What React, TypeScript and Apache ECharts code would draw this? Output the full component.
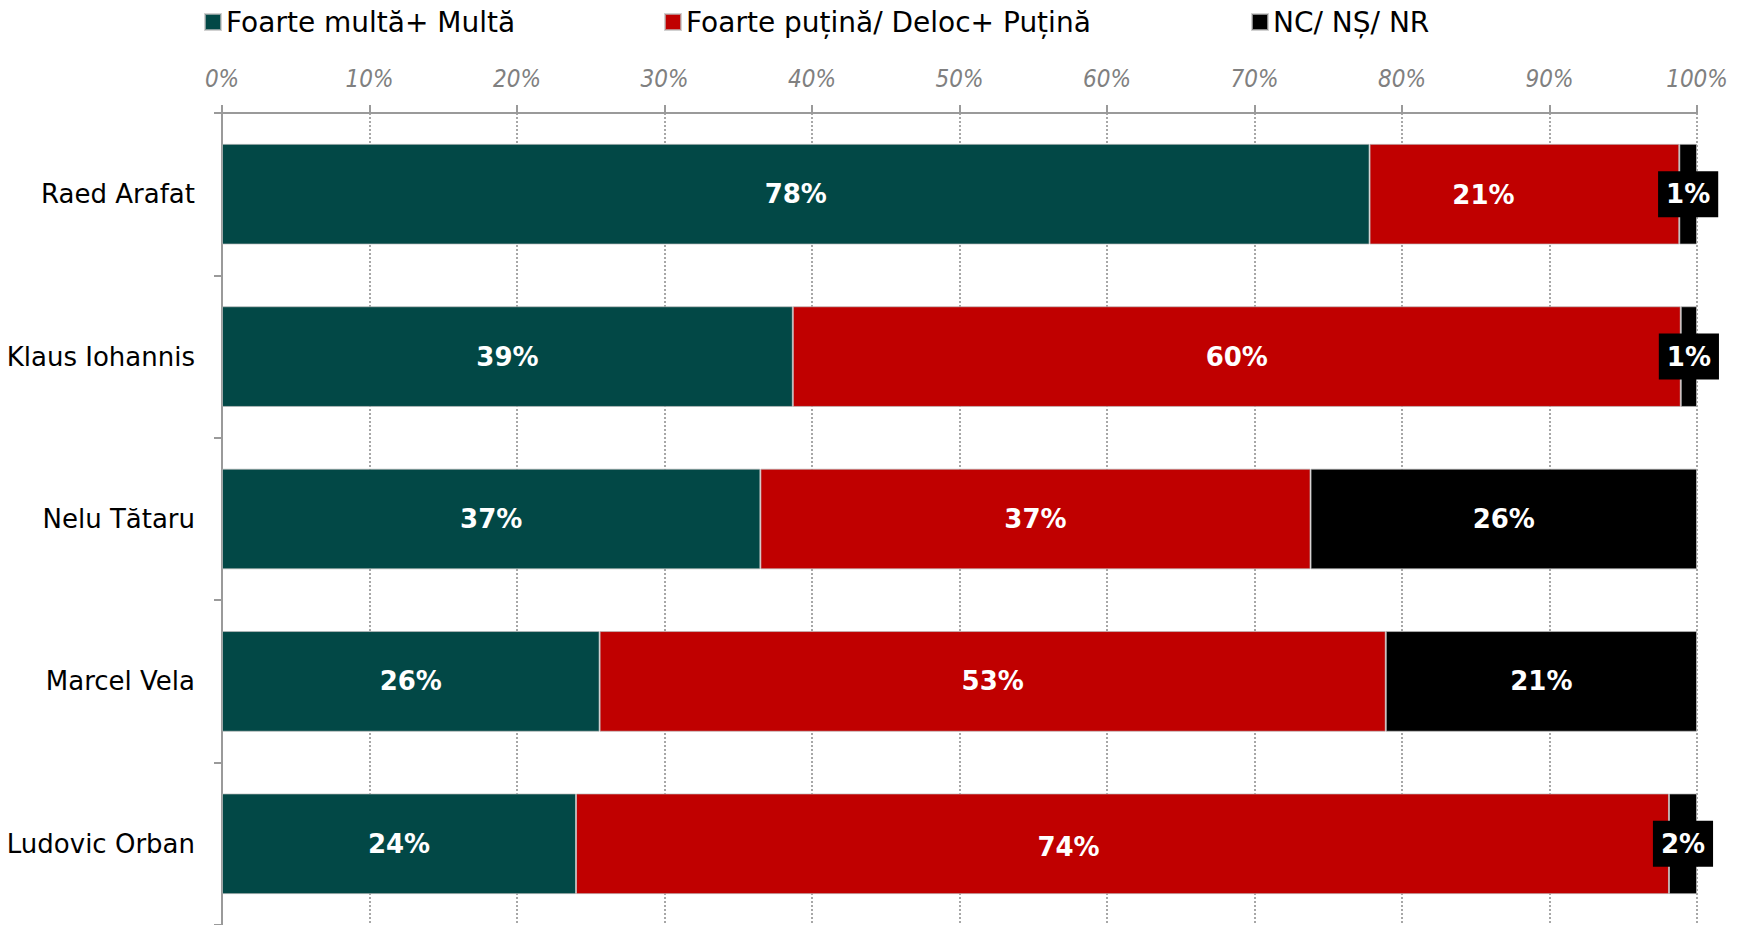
import React, { useEffect, useRef } from "react";
import * as echarts from "echarts";

const categories = ["Raed Arafat", "Klaus Iohannis", "Nelu Tătaru", "Marcel Vela", "Ludovic Orban"];
const seriesNames = ["Foarte multă+ Multă", "Foarte puțină/ Deloc+ Puțină", "NC/ NȘ/ NR"];
const multa = [77.8, 38.7, 36.5, 25.6, 24.0];
const putina = [21.0, 60.2, 37.3, 53.3, 74.1];
const nc = [1.2, 1.1, 26.2, 21.1, 1.9];
const colors = ["#024846", "#C00000", "#000000"];

const FONT = "'DejaVu Sans', sans-serif";
const FONT_AXIS = "'DejaVu Sans Condensed', 'DejaVu Sans', sans-serif";

// label nudges for segments whose labels would collide with the neighbouring small box
const redLabelOffsets: Record<number, [number, number]> = { 0: [-41, 1], 4: [-54, 3] };

export default function App() {
  const ref = useRef<HTMLDivElement>(null);
  useEffect(() => {
    if (!ref.current) return;
    const chart = echarts.init(ref.current, null, { renderer: "svg" });
    const values = [multa, putina, nc];
    const legendLefts = [204, 664, 1251];
    chart.setOption({
      animation: false,
      textStyle: { fontFamily: FONT },
      legend: seriesNames.map((n, i) => ({
        data: [n],
        left: legendLefts[i],
        top: 6,
        padding: 0,
        icon: "rect",
        itemWidth: 16,
        itemHeight: 16,
        itemGap: 9,
        selectedMode: false,
        textStyle: { fontSize: 28, color: "#000", fontFamily: FONT, lineHeight: 32 },
      })),
      grid: { left: 222, right: 47, top: 113, bottom: 0, containLabel: false },
      xAxis: {
        type: "value",
        position: "top",
        min: 0,
        max: 100,
        interval: 10,
        axisLine: { show: true, lineStyle: { color: "#9a9a9a", width: 2 } },
        axisTick: { show: true, length: 8, inside: false, lineStyle: { color: "#9a9a9a", width: 2 } },
        axisLabel: {
          formatter: "{value}%",
          fontSize: 24,
          fontStyle: "italic",
          color: "#808080",
          margin: 22,
          fontFamily: FONT_AXIS,
        },
        splitLine: { show: true, lineStyle: { color: "#8a8a8a", type: [2, 2], width: 1.5 } },
      },
      yAxis: {
        type: "category",
        data: categories,
        inverse: true,
        axisLine: { show: true, lineStyle: { color: "#9a9a9a", width: 2 } },
        axisTick: { show: true, length: 8, lineStyle: { color: "#9a9a9a", width: 2 } },
        axisLabel: { fontSize: 26, color: "#000", margin: 27, fontFamily: FONT },
        splitLine: { show: false },
      },
      series: seriesNames.map((n, i) => ({
        name: n,
        type: "bar",
        stack: "total",
        barWidth: "62%",
        data: values[i].map((v, j) =>
          i === 1 && redLabelOffsets[j]
            ? { value: v, label: { offset: redLabelOffsets[j] } }
            : v
        ),
        itemStyle: { color: colors[i], borderColor: "rgba(190,190,190,0.7)", borderWidth: 1 },
        label: {
          show: true,
          position: "inside",
          formatter: (p: any) => Math.round(p.value) + "%",
          color: "#fff",
          fontWeight: "bold",
          fontSize: 26,
          fontFamily: FONT,
          ...(i === 2
            ? { backgroundColor: "#000", padding: [8, 8], lineHeight: 30 }
            : {}),
        },
      })),
    });
    return () => chart.dispose();
  }, []);
  return (
    <div
      ref={ref}
      style={{ position: "fixed", top: 0, left: 0, width: 1744, height: 925, background: "#fff" }}
    />
  );
}
